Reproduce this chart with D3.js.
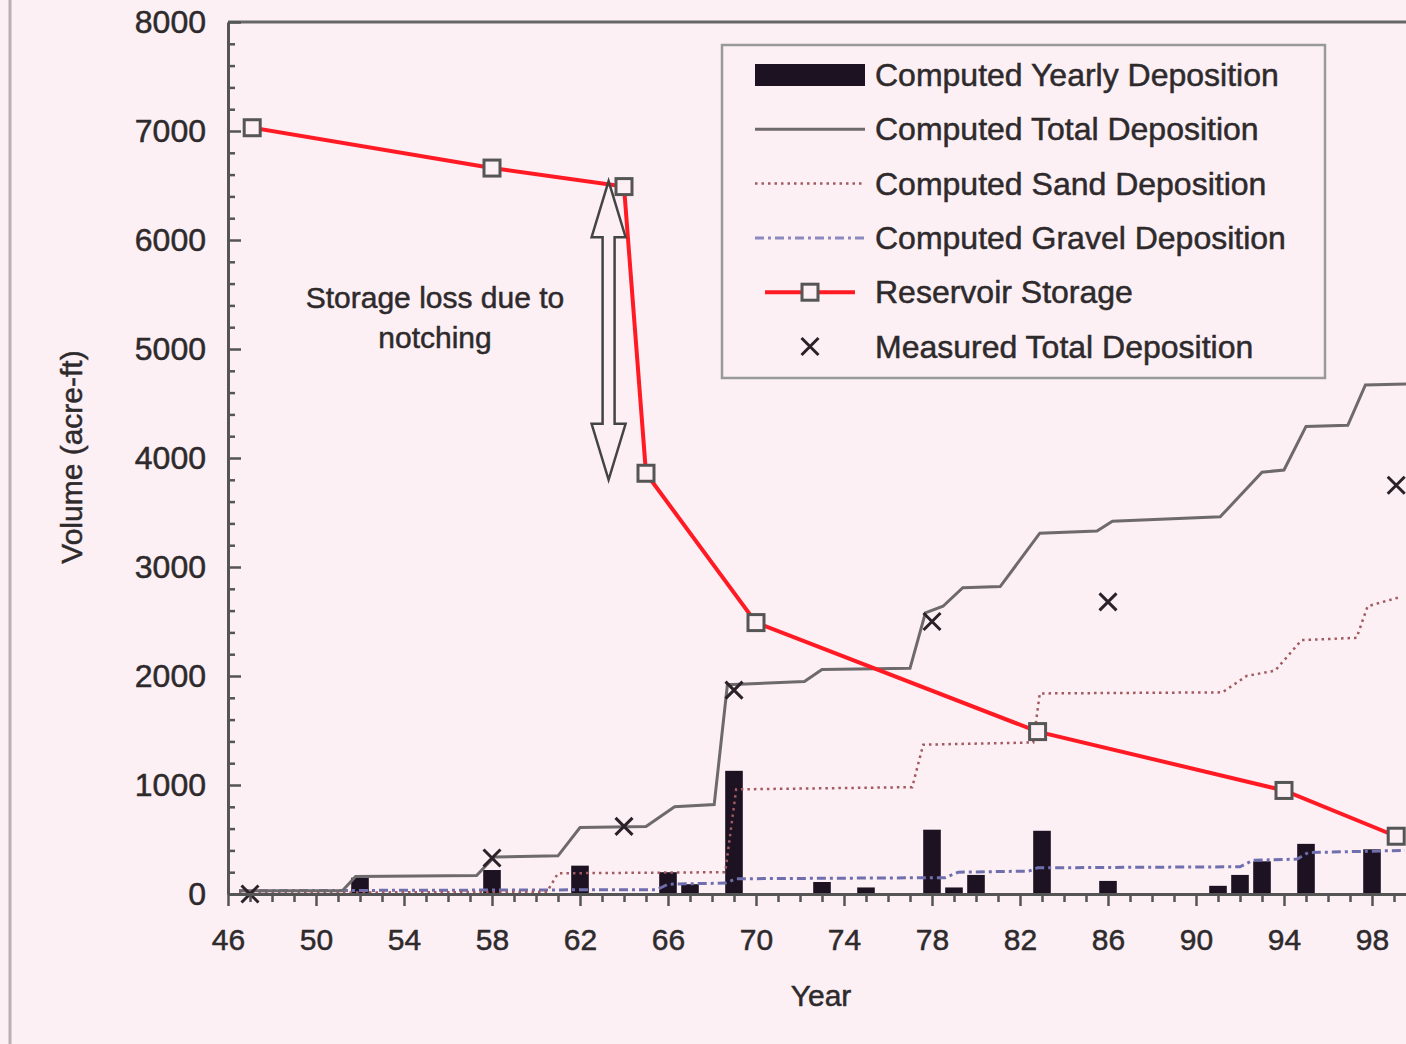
<!DOCTYPE html>
<html>
<head>
<meta charset="utf-8">
<script src="https://cdn.jsdelivr.net/npm/d3@7"></script>
<style>
  body { margin: 0; background: #fcf0f5; }
  svg { display: block; }
  text { font-family: "Liberation Sans", Arial, sans-serif; fill: #2e2a2c; stroke: #2e2a2c; stroke-width: 0.5px; }
</style>
</head>
<body>
<script>
// values (year, acre-ft)
const barYears = [52, 58, 62, 66, 67, 69, 73, 75, 78, 79, 80, 83, 86, 91, 92, 93, 95, 98]
const barValues = [150, 220, 260, 200, 90, 1130, 110, 60, 590, 60, 175, 580, 120, 75, 175, 300, 460, 410]

const totalDeposition = [
  [46.5, 30], [51.2, 30], [51.8, 160], [57.3, 170], [58.1, 340], [61.0, 350],
  [62.0, 610], [65.0, 620], [66.3, 800], [68.1, 820], [68.7, 1920], [72.2, 1950],
  [73.0, 2060], [77.0, 2070], [77.7, 2580], [78.5, 2640], [79.4, 2810], [81.1, 2820],
  [82.9, 3310], [85.5, 3330], [86.2, 3420], [91.1, 3460], [93.0, 3870], [94.0, 3890],
  [95.0, 4290], [96.9, 4300], [97.7, 4670], [100, 4680]
]

const sandDeposition = [
  [46.5, 10], [60.5, 20], [61.0, 190], [68.6, 200], [69.1, 960], [77.1, 980],
  [77.6, 1370], [82.6, 1390], [82.9, 1840], [91.2, 1850], [92.3, 2000], [93.6, 2050],
  [94.8, 2330], [97.3, 2350], [97.8, 2640], [99.2, 2720]
]

const gravelDeposition = [
  [46.5, 30], [65.5, 40], [66.0, 90], [68.6, 100], [69.1, 140], [78.6, 150],
  [79.2, 200], [82.4, 210], [82.8, 240], [92.0, 250], [92.6, 310], [94.6, 320],
  [95.1, 380], [99.5, 400]
]

const reservoirStorage = [
  [47.1, 7030], [58, 6660], [64, 6490], [65, 3860], [70, 2490], [82.8, 1490], [94, 950], [99.1, 530]
]

const measuredTotal = [
  [47, 0], [58, 330], [64, 620], [69, 1870], [78, 2500], [86, 2680], [99.1, 3750]
]

const xTickLabels = [46, 50, 54, 58, 62, 66, 70, 74, 78, 82, 86, 90, 94, 98]
const yTickLabels = [0, 1000, 2000, 3000, 4000, 5000, 6000, 7000, 8000]

const legendLabels = [
  'Computed Yearly Deposition',
  'Computed Total Deposition',
  'Computed Sand Deposition',
  'Computed Gravel Deposition',
  'Reservoir Storage',
  'Measured Total Deposition'
]

chart()

function chart() {
  const w = 1406
  const h = 1044

  const svg = d3.select('body')
    .append('svg')
    .attr('width', w)
    .attr('height', h)

  // page edge of the scan
  svg.append('line')
    .attr('x1', 10).attr('x2', 10)
    .attr('y1', 0).attr('y2', h)
    .style('stroke', '#b8b0b4')
    .style('stroke-width', 3)

  const xScale = d3.scaleLinear()
    .domain([46, 100])
    .range([228, 1416])

  const yScale = d3.scaleLinear()
    .domain([0, 8000])
    .range([894, 22])

  const plot = svg.append('g')

  // yearly deposition bars
  const bw = xScale(0.8) - xScale(0)
  plot.selectAll('rect.bar')
    .data(barYears)
    .enter()
    .append('rect')
    .attr('class', 'bar')
    .attr('x', d => xScale(d) - bw / 2)
    .attr('y', (d, i) => yScale(barValues[i]))
    .attr('width', bw)
    .attr('height', (d, i) => yScale(0) - yScale(barValues[i]))
    .style('fill', '#1c1222')

  const line = d3.line()
    .x(d => xScale(d[0]))
    .y(d => yScale(d[1]))

  plot.append('path')
    .datum(gravelDeposition)
    .attr('d', line)
    .style('fill', 'none')
    .style('stroke', '#6f6fae')
    .style('stroke-width', 3)
    .style('stroke-dasharray', '9,4,3,4')

  plot.append('path')
    .datum(sandDeposition)
    .attr('d', line)
    .style('fill', 'none')
    .style('stroke', '#a05a60')
    .style('stroke-width', 2.5)
    .style('stroke-dasharray', '2.5,4')

  plot.append('path')
    .datum(totalDeposition)
    .attr('d', line)
    .style('fill', 'none')
    .style('stroke', '#6e6a6c')
    .style('stroke-width', 3)

  plot.append('path')
    .datum(reservoirStorage)
    .attr('d', line)
    .style('fill', 'none')
    .style('stroke', '#ff1a24')
    .style('stroke-width', 4)

  plot.selectAll('rect.sq')
    .data(reservoirStorage)
    .enter()
    .append('rect')
    .attr('class', 'sq')
    .attr('x', d => xScale(d[0]) - 8)
    .attr('y', d => yScale(d[1]) - 8)
    .attr('width', 16)
    .attr('height', 16)
    .style('fill', '#fcf0f5')
    .style('stroke', '#555')
    .style('stroke-width', 3)

  const cross = d3.symbol().type(d3.symbolX).size(190)
  plot.selectAll('path.meas')
    .data(measuredTotal)
    .enter()
    .append('path')
    .attr('class', 'meas')
    .attr('d', cross)
    .attr('transform', d => `translate(${xScale(d[0])},${yScale(d[1])})`)
    .style('fill', 'none')
    .style('stroke', '#2a2228')
    .style('stroke-width', 3)

  // storage loss annotation: hollow double arrow
  const ax = xScale(63.3)
  const yTop = yScale(6540)
  const yBot = yScale(3800)
  const hw = 17, sw = 6, hl = 56
  const arrow = [
    [ax, yTop], [ax + hw, yTop + hl], [ax + sw, yTop + hl],
    [ax + sw, yBot - hl], [ax + hw, yBot - hl], [ax, yBot],
    [ax - hw, yBot - hl], [ax - sw, yBot - hl], [ax - sw, yTop + hl],
    [ax - hw, yTop + hl]
  ]
  plot.append('path')
    .attr('d', d3.line()(arrow) + 'Z')
    .style('fill', 'none')
    .style('stroke', '#444')
    .style('stroke-width', 2.5)

  const note = svg.append('text')
    .attr('text-anchor', 'middle')
    .style('font-size', '30px')
  note.append('tspan').attr('x', 435).attr('y', 308).text('Storage loss due to')
  note.append('tspan').attr('x', 435).attr('y', 348).text('notching')

  // frame line at top
  svg.append('line')
    .attr('x1', 228).attr('x2', w)
    .attr('y1', 22).attr('y2', 22)
    .style('stroke', '#666')
    .style('stroke-width', 3)

  // axes
  const yMinor = d3.range(200, 8000, 200).filter(v => v % 1000 !== 0)
  svg.append('g')
    .attr('transform', 'translate(228,0)')
    .call(d3.axisLeft(yScale).tickValues(yMinor).tickSize(-7).tickFormat(''))
    .call(g => g.select('.domain').remove())
    .call(g => g.selectAll('line').style('stroke', '#555').style('stroke-width', 2.5))

  svg.append('g')
    .attr('id', 'yAxisG')
    .attr('transform', 'translate(228,0)')
    .call(d3.axisLeft(yScale).tickValues(yTickLabels).tickFormat(d3.format('d'))
      .tickSize(-13).tickSizeOuter(0).tickPadding(22))
    .call(g => g.select('.domain').style('stroke', '#555').style('stroke-width', 3))
    .call(g => g.selectAll('line').style('stroke', '#555').style('stroke-width', 2.5))
    .call(g => g.selectAll('text').style('font-size', '32px').attr('fill', null).attr('font-family', null))

  svg.append('g')
    .attr('transform', 'translate(0,894)')
    .call(d3.axisBottom(xScale).tickValues(d3.range(47, 100, 1).filter(v => (v - 46) % 4 !== 0)).tickSize(8).tickFormat(''))
    .call(g => g.select('.domain').remove())
    .call(g => g.selectAll('line').style('stroke', '#555').style('stroke-width', 2.5))

  svg.append('g')
    .attr('id', 'xAxisG')
    .attr('transform', 'translate(0,894)')
    .call(d3.axisBottom(xScale).tickValues(xTickLabels).tickSize(12).tickSizeOuter(0).tickPadding(23))
    .call(g => g.select('.domain').style('stroke', '#555').style('stroke-width', 3))
    .call(g => g.selectAll('line').style('stroke', '#555').style('stroke-width', 2.5))
    .call(g => g.selectAll('text').style('font-size', '30px').attr('fill', null).attr('font-family', null))

  svg.append('text')
    .attr('x', 821)
    .attr('y', 1006)
    .attr('text-anchor', 'middle')
    .style('font-size', '30px')
    .text('Year')

  svg.append('text')
    .attr('transform', 'translate(82,457) rotate(-90)')
    .attr('text-anchor', 'middle')
    .style('font-size', '30px')
    .text('Volume (acre-ft)')

  // legend
  const lg = svg.append('g').attr('transform', 'translate(722,45)')
  lg.append('rect')
    .attr('width', 603)
    .attr('height', 333)
    .style('fill', '#fcf0f5')
    .style('stroke', '#999')
    .style('stroke-width', 2.5)

  const rowY = i => 30 + i * 54.3

  lg.append('rect')
    .attr('x', 33).attr('y', rowY(0) - 11)
    .attr('width', 110).attr('height', 22)
    .style('fill', '#1c1222')

  const sample = (i, stroke, width, dash) => lg.append('line')
    .attr('x1', 33).attr('x2', 143)
    .attr('y1', rowY(i)).attr('y2', rowY(i))
    .style('stroke', stroke)
    .style('stroke-width', width)
    .style('stroke-dasharray', dash)

  sample(1, '#6e6a6c', 3, null)
  sample(2, '#a05a60', 2.5, '2.5,4')
  sample(3, '#8a8ac0', 3, '9,4,3,4')

  lg.append('line')
    .attr('x1', 43).attr('x2', 133)
    .attr('y1', rowY(4)).attr('y2', rowY(4))
    .style('stroke', '#ff1a24')
    .style('stroke-width', 4)
  lg.append('rect')
    .attr('x', 80).attr('y', rowY(4) - 8)
    .attr('width', 16).attr('height', 16)
    .style('fill', '#fcf0f5')
    .style('stroke', '#555')
    .style('stroke-width', 3)

  lg.append('path')
    .attr('d', cross)
    .attr('transform', `translate(88,${rowY(5)})`)
    .style('fill', 'none')
    .style('stroke', '#2a2228')
    .style('stroke-width', 3)

  lg.selectAll('text.lab')
    .data(legendLabels)
    .enter()
    .append('text')
    .attr('class', 'lab')
    .attr('x', 153)
    .attr('y', (d, i) => rowY(i) + 11)
    .style('font-size', '32px')
    .text(d => d)
}
</script>
</body>
</html>
